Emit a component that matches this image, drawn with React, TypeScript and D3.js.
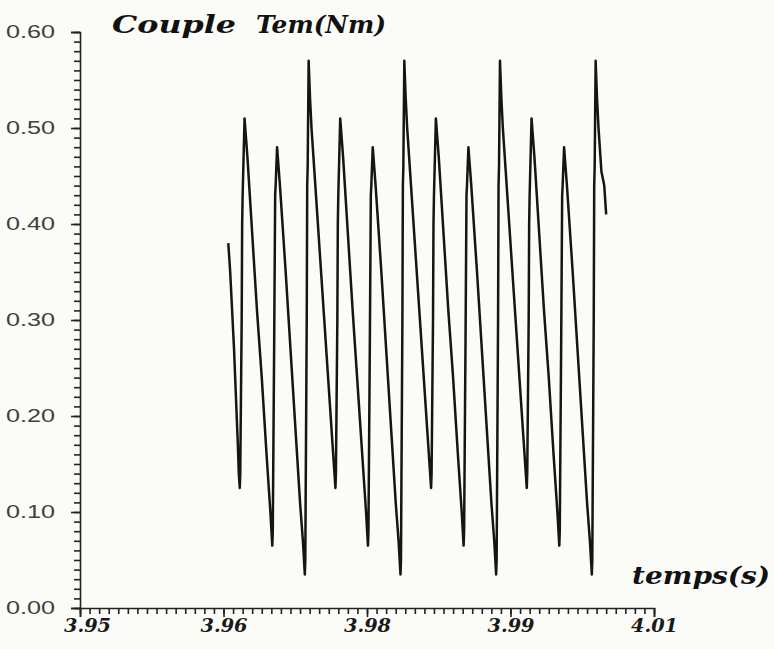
import React, { useRef, useEffect } from 'react'
import * as d3 from 'd3'

const temps = [
  3.9655, 3.9657, 3.9659, 3.9661, 3.9663, 3.9665, 3.9666, 3.9667,
  // periode 1
  3.96675, 3.9669, 3.96695, 3.967, 3.96715, 3.9672, 3.96735, 3.9675, 3.968, 3.9685, 3.969, 3.9695, 3.9699, 3.9701,
  3.97015, 3.9703, 3.9704, 3.97045, 3.9706, 3.97075, 3.9709, 3.9715, 3.972, 3.9725, 3.973, 3.9733, 3.9735,
  3.97355, 3.9737, 3.97375, 3.9738, 3.9739, 3.97405, 3.9742, 3.9745, 3.975, 3.9755, 3.976, 3.9764, 3.9767,
  // periode 2
  3.97675, 3.9769, 3.97695, 3.977, 3.97715, 3.9772, 3.97735, 3.9775, 3.978, 3.9785, 3.979, 3.9795, 3.9799, 3.9801,
  3.98015, 3.9803, 3.9804, 3.98045, 3.9806, 3.98075, 3.9809, 3.9815, 3.982, 3.9825, 3.983, 3.9833, 3.9835,
  3.98355, 3.9837, 3.98375, 3.9838, 3.9839, 3.98405, 3.9842, 3.9845, 3.985, 3.9855, 3.986, 3.9864, 3.9867,
  // periode 3
  3.98675, 3.9869, 3.98695, 3.987, 3.98715, 3.9872, 3.98735, 3.9875, 3.988, 3.9885, 3.989, 3.9895, 3.9899, 3.9901,
  3.99015, 3.9903, 3.9904, 3.99045, 3.9906, 3.99075, 3.9909, 3.9915, 3.992, 3.9925, 3.993, 3.9933, 3.9935,
  3.99355, 3.9937, 3.99375, 3.9938, 3.9939, 3.99405, 3.9942, 3.9945, 3.995, 3.9955, 3.996, 3.9964, 3.9967,
  // periode 4
  3.99675, 3.9969, 3.99695, 3.997, 3.99715, 3.9972, 3.99735, 3.9975, 3.998, 3.9985, 3.999, 3.9995, 3.9999, 4.0001,
  4.00015, 4.0003, 4.0004, 4.00045, 4.0006, 4.00075, 4.0009, 4.0015, 4.002, 4.0025, 4.003, 4.0033, 4.0035,
  4.00355, 4.0037, 4.00375, 4.0038, 4.0039, 4.00405, 4.0042, 4.0045, 4.0048, 4.005,
]

const couple = [
  0.38, 0.35, 0.31, 0.27, 0.22, 0.17, 0.14, 0.125,
  0.14, 0.3, 0.4, 0.43, 0.49, 0.51, 0.49, 0.47, 0.39, 0.31, 0.24, 0.16, 0.1, 0.065,
  0.08, 0.28, 0.43, 0.44, 0.48, 0.46, 0.44, 0.35, 0.27, 0.19, 0.11, 0.07, 0.035,
  0.05, 0.3, 0.44, 0.46, 0.57, 0.53, 0.5, 0.455, 0.38, 0.305, 0.23, 0.17, 0.125,
  0.14, 0.3, 0.4, 0.43, 0.49, 0.51, 0.49, 0.47, 0.39, 0.31, 0.235, 0.16, 0.1, 0.065,
  0.08, 0.28, 0.43, 0.44, 0.48, 0.46, 0.44, 0.35, 0.27, 0.19, 0.11, 0.07, 0.035,
  0.05, 0.3, 0.44, 0.46, 0.57, 0.53, 0.5, 0.455, 0.38, 0.305, 0.23, 0.17, 0.125,
  0.14, 0.3, 0.4, 0.43, 0.49, 0.51, 0.49, 0.47, 0.39, 0.31, 0.24, 0.16, 0.1, 0.065,
  0.08, 0.28, 0.43, 0.44, 0.48, 0.46, 0.44, 0.35, 0.27, 0.19, 0.11, 0.07, 0.035,
  0.05, 0.3, 0.44, 0.46, 0.57, 0.53, 0.5, 0.455, 0.38, 0.305, 0.23, 0.17, 0.125,
  0.14, 0.3, 0.4, 0.43, 0.49, 0.51, 0.49, 0.47, 0.39, 0.31, 0.24, 0.16, 0.1, 0.065,
  0.08, 0.28, 0.43, 0.44, 0.48, 0.46, 0.44, 0.35, 0.27, 0.19, 0.11, 0.07, 0.035,
  0.05, 0.3, 0.44, 0.46, 0.57, 0.53, 0.5, 0.455, 0.44, 0.41,
]

const xTickValues = [3.95, 3.965, 3.98, 3.995, 4.01]
const xTickLabels = ['3.95', '3.96', '3.98', '3.99', '4.01']
const yTickValues = [0, 0.1, 0.2, 0.3, 0.4, 0.5, 0.6]
const yTickLabels = ['0.00', '0.10', '0.20', '0.30', '0.40', '0.50', '0.60']

const width = 774
const height = 649
const margin = { left: 80, top: 32, right: 120, bottom: 41 }

const App = () => {
  const ref = useRef<SVGSVGElement>(null)

  useEffect(() => {
    const svg = d3.select(ref.current)
    svg.selectAll('*').remove()

    const x = d3.scaleLinear().domain([3.95, 4.01]).range([margin.left, width - margin.right])
    const y = d3.scaleLinear().domain([0, 0.6]).range([height - margin.bottom, margin.top])

    svg.append('rect').attr('width', width).attr('height', height).attr('fill', '#fbfbf8')

    // petites graduations
    const xMinor = d3.range(0, 61).map(i => +(3.95 + i * 0.001).toFixed(3))
    const yMinor = d3.range(0, 61).map(i => +(i * 0.01).toFixed(2))

    svg.append('g').attr('transform', `translate(0, ${y(0)})`)
      .call(d3.axisBottom(x).tickValues(xMinor).tickSize(6).tickSizeOuter(9).tickFormat(() => ''))
    svg.append('g').attr('transform', `translate(${x(3.95)}, 0)`)
      .call(d3.axisLeft(y).tickValues(yMinor).tickSize(6).tickSizeOuter(9).tickFormat(() => ''))

    const xAxis = svg.append('g').attr('transform', `translate(0, ${y(0)})`)
      .call(d3.axisBottom(x).tickValues(xTickValues).tickSize(9).tickPadding(2)
        .tickFormat((d, i) => xTickLabels[i]))
    xAxis.select('.domain').remove()
    xAxis.selectAll('text').attr('dx', (d, i) => (i === 0 ? 7 : 0))
      .attr('textLength', 47).attr('lengthAdjust', 'spacingAndGlyphs')
      .style('font-family', '"DejaVu Serif", serif').style('font-weight', 'bold')
      .style('font-style', 'italic').style('font-size', '18px').attr('fill', '#1a1a1a')

    const yAxis = svg.append('g').attr('transform', `translate(${x(3.95)}, 0)`)
      .call(d3.axisLeft(y).tickValues(yTickValues).tickSize(9).tickPadding(16)
        .tickFormat((d, i) => yTickLabels[i]))
    yAxis.select('.domain').remove()
    yAxis.selectAll('text')
      .attr('textLength', 49).attr('lengthAdjust', 'spacingAndGlyphs')
      .style('font-family', '"Liberation Sans", Arial, sans-serif')
      .style('font-size', '18px').attr('fill', '#404040')

    svg.selectAll('.domain, .tick line').attr('stroke', '#222').attr('stroke-width', 1.6)

    const line = d3.line<number>().x((d, i) => x(temps[i])).y(d => y(d))
    svg.append('path').datum(couple).attr('d', line)
      .attr('fill', 'none').attr('stroke', '#151515').attr('stroke-width', 2.5)
      .attr('stroke-linejoin', 'round')

    svg.append('text').attr('x', 112).attr('y', 33).text('Couple')
      .attr('textLength', 124).attr('lengthAdjust', 'spacingAndGlyphs')
      .style('font-family', '"DejaVu Serif", serif').style('font-weight', 'bold')
      .style('font-style', 'italic').style('font-size', '24px').attr('fill', '#111')
    svg.append('text').attr('x', 256).attr('y', 33).text('Tem(Nm)')
      .attr('textLength', 130).attr('lengthAdjust', 'spacingAndGlyphs')
      .style('font-family', '"DejaVu Serif", serif').style('font-weight', 'bold')
      .style('font-style', 'italic').style('font-size', '24px').attr('fill', '#111')

    svg.append('text').attr('x', 632).attr('y', 584).text('temps(s)')
      .attr('textLength', 138).attr('lengthAdjust', 'spacingAndGlyphs')
      .style('font-family', '"DejaVu Serif", serif').style('font-weight', 'bold')
      .style('font-style', 'italic').style('font-size', '24px').attr('fill', '#111')
  }, [])

  return (
    <svg ref={ref} width={width} height={height}
      style={{ position: 'absolute', left: 0, top: 0, display: 'block' }} />
  )
}

export default App
